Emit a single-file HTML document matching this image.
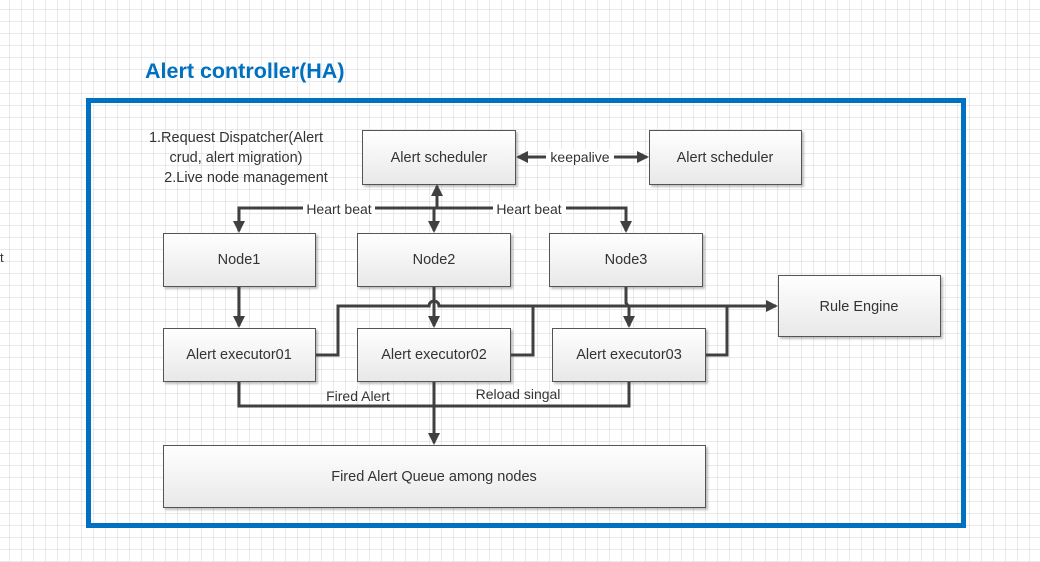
<!DOCTYPE html>
<html><head><meta charset="utf-8"><style>
html,body{margin:0;padding:0;width:1040px;height:562px;overflow:hidden;background:#fff;}
svg{display:block;font-family:"Liberation Sans",sans-serif;}
</style></head><body>
<svg width="1040" height="562" xmlns="http://www.w3.org/2000/svg">
<defs>
<pattern id="g" x="9" y="9" width="12" height="12" patternUnits="userSpaceOnUse">
<path d="M0 0H12M0 0V12" stroke="#d6d6d6" stroke-width="1" fill="none"/>
</pattern>
<linearGradient id="bg" x1="0" y1="0" x2="0" y2="1">
<stop offset="0" stop-color="#ffffff"/><stop offset="1" stop-color="#e8e8e8"/>
</linearGradient>
<marker id="a" markerWidth="12" markerHeight="12" refX="10" refY="6" orient="auto" markerUnits="userSpaceOnUse">
<path d="M0,0 L12,6 L0,12 Z" fill="#404040"/>
</marker>
<filter id="sh" x="-5%" y="-5%" width="115%" height="120%"><feDropShadow dx="2" dy="2" stdDeviation="1" flood-color="#000" flood-opacity="0.25"/></filter>
</defs>
<rect width="1040" height="562" fill="url(#g)"/>
<text x="0" y="262" font-size="13" fill="#333">t</text>
<text x="145" y="78" font-size="21.5" font-weight="bold" fill="#0070c0">Alert controller(HA)</text>
<rect x="88.5" y="100.5" width="875" height="425" fill="none" stroke="#0070c0" stroke-width="5"/>

<g fill="url(#bg)" stroke="#555" stroke-width="1" filter="url(#sh)">
<rect x="362.5" y="130.5" width="153" height="54"/>
<rect x="649.5" y="130.5" width="152" height="54"/>
<rect x="163.5" y="233.5" width="152" height="53"/>
<rect x="357.5" y="233.5" width="153" height="53"/>
<rect x="549.5" y="233.5" width="153" height="53"/>
<rect x="163.5" y="328.5" width="152" height="53"/>
<rect x="357.5" y="328.5" width="153" height="53"/>
<rect x="552.5" y="328.5" width="153" height="53"/>
<rect x="778.5" y="275.5" width="162" height="61"/>
<rect x="163.5" y="445.5" width="542" height="62"/>
</g>

<g font-size="14.5" fill="#333" text-anchor="middle">
<text x="439" y="162">Alert scheduler</text>
<text x="725" y="162">Alert scheduler</text>
<text x="239" y="264">Node1</text>
<text x="434" y="264">Node2</text>
<text x="626" y="264">Node3</text>
<text x="239" y="359">Alert executor01</text>
<text x="434" y="359">Alert executor02</text>
<text x="629" y="359">Alert executor03</text>
<text x="859" y="311">Rule Engine</text>
<text x="434" y="481">Fired Alert Queue among nodes</text>
<text x="236" y="142">1.Request Dispatcher(Alert</text>
<text x="236" y="162">crud, alert migration)</text>
<text x="246" y="182">2.Live node management</text>
</g>

<g stroke="#404040" stroke-width="3" fill="none">
<line x1="614" y1="157" x2="647" y2="157" marker-end="url(#a)"/>
<line x1="546" y1="157" x2="518" y2="157" marker-end="url(#a)"/>
<line x1="437" y1="208" x2="437" y2="186" marker-end="url(#a)"/>
<path d="M303 208H239V231" marker-end="url(#a)"/>
<path d="M375 208H493"/>
<path d="M566 208H626V231" marker-end="url(#a)"/>
<line x1="434" y1="208" x2="434" y2="231" marker-end="url(#a)"/>
<line x1="239" y1="287" x2="239" y2="326" marker-end="url(#a)"/>
<line x1="434" y1="287" x2="434" y2="326" marker-end="url(#a)"/>
<path d="M626 287V303l3 4V326" marker-end="url(#a)"/>
<path d="M316 355H338V306H429a5 5 0 0 1 10 0H776" marker-end="url(#a)"/>
<path d="M511 355H533V306"/>
<path d="M706 355H727V306"/>
<path d="M239 382V406H629V382"/>
<line x1="434" y1="382" x2="434" y2="443" marker-end="url(#a)"/>
</g>
<g font-size="14" fill="#333" text-anchor="middle">
<rect x="547" y="149" width="67" height="16" fill="#fff"/>
<text x="580" y="162">keepalive</text>
<rect x="303" y="201" width="72" height="14" fill="#fff"/>
<text x="339" y="214">Heart beat</text>
<rect x="493" y="201" width="73" height="14" fill="#fff"/>
<text x="529" y="214">Heart beat</text>
<text x="358" y="401">Fired Alert</text>
<text x="518" y="399">Reload singal</text>
</g>
</svg>
</body></html>
